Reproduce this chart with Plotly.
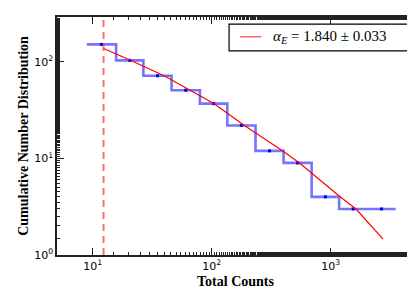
import plotly.graph_objects as go

# bin edges of the cumulative histogram (total counts)
edges = [8.9, 15.7, 26.6, 45.9, 79.4, 135, 233, 401, 690, 1175, 2023, 3508]
cum_counts = [152, 104, 72, 51, 37, 22, 12, 9, 4, 3, 3]

# power-law fit curve
fit_x = [12.3, 20.5, 40.1, 64.9, 104.7, 191.9, 400.9, 552.1, 1175, 1637, 2748]
fit_y = [138, 105, 71.7, 51.4, 36.9, 21.6, 11.8, 8.87, 4.09, 2.98, 1.46]

x_cut = 12.3
legend_text = "<i>α</i><sub><i>E</i></sub> = 1.840 ± 0.033"

# step outline
step_x = [edges[0]]
step_y = [cum_counts[0]]
for i, c in enumerate(cum_counts):
    step_x += [edges[i], edges[i + 1]]
    step_y += [c, c]
centers = [(edges[i] * edges[i + 1]) ** 0.5 for i in range(len(cum_counts))]

fig = go.Figure()
fig.add_trace(go.Scatter(x=step_x, y=step_y, mode="lines",
                         line=dict(color="rgba(30,30,255,0.62)", width=2.6),
                         showlegend=False))
fig.add_trace(go.Scatter(x=centers, y=cum_counts, mode="markers",
                         marker=dict(color="#0000dd", size=3, symbol="square"),
                         showlegend=False))
fig.add_trace(go.Scatter(x=fit_x, y=fit_y, mode="lines",
                         line=dict(color="red", width=1.2), showlegend=False))
fig.add_trace(go.Scatter(x=[x_cut, x_cut], y=[1, 300], mode="lines",
                         line=dict(color="rgba(255,60,60,0.75)", width=2, dash="7px,5px"),
                         showlegend=False))

# legend box drawn by hand
fig.add_shape(type="rect", xref="paper", yref="paper", x0=0.482, x1=0.99, y0=0.858, y1=0.97,
              line=dict(color="black", width=1.2), fillcolor="white")
fig.add_shape(type="line", xref="paper", yref="paper", x0=0.513, x1=0.572, y0=0.917, y1=0.917,
              line=dict(color="rgba(255,60,60,0.8)", width=1.5))
fig.add_annotation(xref="paper", yref="paper", x=0.6, y=0.917, xanchor="left", yanchor="middle",
                   text=legend_text, showarrow=False,
                   font=dict(family="Liberation Serif", size=15, color="black"))

tick_font = dict(family="DejaVu Sans", size=11, color="black")
title_font = dict(family="Liberation Serif", size=14, color="black")
fig.update_xaxes(type="log", range=[0.699, 3.699], showgrid=False, zeroline=False,
                 showline=True, linecolor="#222", linewidth=1.5, mirror="allticks",
                 ticks="inside", ticklen=7, tickcolor="#222",
                 tickvals=[10, 100, 1000],
                 ticktext=["10<sup>1</sup>", "10<sup>2</sup>", "10<sup>3</sup>"],
                 minor=dict(ticks="inside", ticklen=3.5, tickcolor="#222", showgrid=False),
                 tickfont=tick_font,
                 title=dict(text="<b>Total Counts</b>", font=title_font, standoff=4))
fig.update_yaxes(type="log", range=[0, 2.466], showgrid=False, zeroline=False,
                 showline=True, linecolor="#222", linewidth=1.5, mirror="allticks",
                 ticks="inside", ticklen=7, tickcolor="#222",
                 tickvals=[1, 10, 100],
                 ticktext=["10<sup>0</sup>", "10<sup>1</sup>", "10<sup>2</sup>"],
                 minor=dict(ticks="inside", ticklen=3.5, tickcolor="#222", showgrid=False),
                 tickfont=tick_font,
                 title=dict(text="<b>Cumulative Number Distribution</b>", font=title_font, standoff=2))
fig.update_layout(width=415, height=289, margin=dict(l=49, r=7, t=8, b=42),
                  plot_bgcolor="white", paper_bgcolor="white")
fig.write_html("out.html")
